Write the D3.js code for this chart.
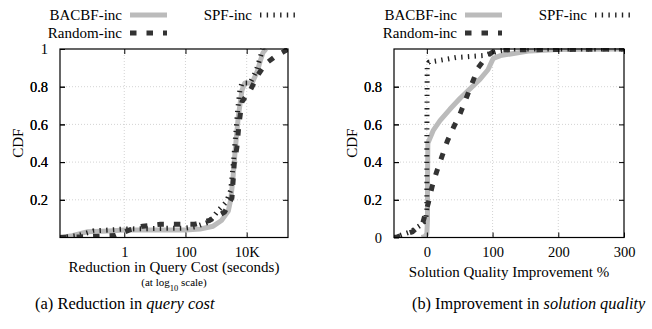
<!DOCTYPE html>
<html>
<head>
<meta charset="utf-8">
<script src="https://cdn.jsdelivr.net/npm/d3@7"></script>
<style>
  body { margin: 0; background: #fff; }
  svg { display: block; }
  text { font-family: "Liberation Serif", "DejaVu Serif", serif; fill: #000; }
</style>
</head>
<body>
<div id="chart"></div>
<script>
// series names
var series_names = ['BACBF-inc', 'SPF-inc', 'Random-inc'];

// (a) reduction in query cost, seconds (log scale) vs CDF
var cost_bacbf = [[0.008, 0], [0.02, 0.01], [0.06, 0.03], [0.3, 0.035], [1, 0.04], [10, 0.04], [100, 0.04],
    [300, 0.045], [800, 0.06], [1500, 0.09], [2500, 0.14], [3000, 0.2], [3500, 0.3], [4200, 0.46],
    [5300, 0.64], [7000, 0.78], [8700, 0.82], [15000, 0.82], [22000, 0.88], [27000, 0.93], [34000, 0.98], [43000, 1]];
var cost_spf = [[0.008, 0], [0.03, 0.01], [0.1, 0.035], [1, 0.045], [100, 0.05], [200, 0.056], [600, 0.083],
    [1200, 0.145], [2200, 0.19], [3000, 0.25], [3700, 0.4], [4400, 0.55], [5100, 0.68], [6000, 0.78],
    [7000, 0.82], [13000, 0.82], [20000, 0.88], [26000, 0.94], [33000, 1]];
var cost_random = [[0.008, 0], [0.04, 0.003], [0.15, 0.007], [0.5, 0.01], [1.5, 0.04], [4, 0.06], [15, 0.07],
    [200, 0.07], [600, 0.09], [1900, 0.135], [3300, 0.21], [3600, 0.3], [3900, 0.39], [4800, 0.48],
    [5600, 0.6], [7000, 0.72], [13000, 0.78], [23000, 0.86], [40000, 0.92], [85000, 0.96], [180000, 0.99], [220000, 1]];

// (b) solution quality improvement % vs CDF
var qual_bacbf = [[-8, 0], [-3, 0.005], [0, 0.02], [1, 0.1], [1, 0.3], [1.5, 0.5], [10, 0.57], [20, 0.62],
    [35, 0.68], [51, 0.74], [66, 0.79], [81, 0.84], [93, 0.89], [101, 0.95], [112, 0.965], [157, 0.99], [200, 0.997], [300, 1]];
var qual_spf = [[-50, 0], [-25, 0.03], [-10, 0.065], [-2, 0.09], [0, 0.15], [0, 0.5], [0.5, 0.91], [3, 0.93],
    [20, 0.94], [45, 0.955], [85, 0.965], [110, 0.99], [130, 1], [300, 1]];
var qual_random = [[-50, 0], [-45, 0.003], [-22, 0.03], [-6, 0.08], [2, 0.18], [8, 0.27], [15, 0.35], [23, 0.43],
    [31, 0.51], [40, 0.58], [51, 0.66], [60, 0.74], [69, 0.82], [78, 0.9], [92, 0.965], [105, 0.995], [300, 1]];

// ticks
var cost_ticks = [1, 100, 10000];
var cost_tick_labels = ['1', '100', '10K'];
var qual_ticks = [0, 100, 200, 300];
var cdf_ticks_a = [0.2, 0.4, 0.6, 0.8, 1];
var cdf_ticks_b = [0, 0.2, 0.4, 0.6, 0.8];

var width = 652, height = 329;
var top_y = 49, bottom_y = 237.5;

var styles = [
    {color: '#bbbbbb', width: 5, dash: null},
    {color: '#222222', width: 5, dash: '1.4,5.3'},
    {color: '#333333', width: 5, dash: '6.5,10'}
];

var svg = d3.select('#chart')
    .append('svg')
    .attr('width', width)
    .attr('height', height);

function drawPanel(id, x_scale, x_ticks, x_format, y_ticks, data, leg) {
    var x0 = x_scale.range()[0], x1 = x_scale.range()[1];
    var y_scale = d3.scaleLinear().domain([0, 1]).range([bottom_y, top_y]);
    var g = svg.append('g');

    // grid
    var grid = g.append('g').attr('stroke', '#c8c8c8').attr('stroke-dasharray', '1,2').attr('stroke-width', 0.8);
    x_ticks.forEach(function(t) {
        var x = x_scale(t);
        if (x > x0 + 1 && x < x1 - 1) grid.append('line').attr('x1', x).attr('x2', x).attr('y1', top_y).attr('y2', bottom_y);
    });
    [0.2, 0.4, 0.6, 0.8].forEach(function(t) {
        grid.append('line').attr('x1', x0).attr('x2', x1).attr('y1', y_scale(t)).attr('y2', y_scale(t));
    });

    // lines
    svg.append('clipPath').attr('id', 'clip' + id)
        .append('rect').attr('x', x0).attr('y', top_y - 1).attr('width', x1 - x0).attr('height', bottom_y - top_y + 1);
    var line = d3.line()
        .x(function(d) { return x_scale(d[0]); })
        .y(function(d) { return y_scale(d[1]); });
    data.forEach(function(s, i) {
        g.append('path')
            .datum(s)
            .attr('clip-path', 'url(#clip' + id + ')')
            .attr('fill', 'none')
            .attr('stroke', styles[i].color)
            .attr('stroke-width', styles[i].width)
            .attr('stroke-dasharray', styles[i].dash)
            .attr('stroke-linejoin', 'round')
            .attr('d', line);
    });

    // axes (ticks inward, mirrored)
    var xb = d3.axisBottom(x_scale).tickValues(x_ticks).tickSize(-5).tickPadding(9).tickFormat(x_format);
    var xt = d3.axisTop(x_scale).tickValues(x_ticks).tickSize(-5).tickFormat('');
    var yl = d3.axisLeft(y_scale).tickValues(y_ticks.concat([0.2, 0.4, 0.6, 0.8])).tickSize(-5).tickPadding(12).tickFormat(function(d) {
        return y_ticks.indexOf(d) >= 0 ? d3.format('')(d) : '';
    });
    var yr = d3.axisRight(y_scale).tickValues([0.2, 0.4, 0.6, 0.8]).tickSize(-5).tickFormat('');
    [[xb, 'translate(0,' + bottom_y + ')'], [xt, 'translate(0,' + top_y + ')'],
     [yl, 'translate(' + x0 + ',0)'], [yr, 'translate(' + x1 + ',0)']].forEach(function(a) {
        var ax = g.append('g').attr('transform', a[1]).call(a[0]);
        ax.select('.domain').remove();
        ax.selectAll('line').attr('stroke', '#000').attr('stroke-width', 1);
        ax.selectAll('text').style('font-family', '"Liberation Serif", serif').style('font-size', '14.5px').attr('fill', '#000');
    });

    g.append('rect').attr('x', x0).attr('y', top_y).attr('width', x1 - x0).attr('height', bottom_y - top_y)
        .attr('fill', 'none').attr('stroke', '#000').attr('stroke-width', 1.2);

    // y label
    g.append('text')
        .attr('transform', 'translate(' + (x0 - 37) + ',' + ((top_y + bottom_y) / 2) + ') rotate(-90)')
        .attr('text-anchor', 'middle')
        .style('font-size', '15px')
        .text('CDF');

    // legend: two columns, BACBF and SPF on the first row, Random below
    var pos = [[leg, 15], [leg + 130, 15], [leg, 33]];
    series_names.forEach(function(name, i) {
        var p = pos[i];
        g.append('text').attr('x', p[0]).attr('y', p[1] + 5).attr('text-anchor', 'end')
            .style('font-size', '15px').text(name);
        g.append('line').attr('x1', p[0] + 8).attr('x2', p[0] + 45).attr('y1', p[1]).attr('y2', p[1])
            .attr('stroke', styles[i].color).attr('stroke-width', styles[i].width)
            .attr('stroke-dasharray', styles[i].dash);
    });
    return g;
}

var xa = d3.scaleLog().domain([Math.pow(10, -2.1), Math.pow(10, 5.35)]).range([60, 288]);
var ga = drawPanel('a', xa, cost_ticks, function(d, i) { return cost_tick_labels[i]; }, cdf_ticks_a,
    [cost_bacbf, cost_spf, cost_random], 122);

var xb = d3.scaleLinear().domain([-50, 300]).range([394, 624]);
var gb = drawPanel('b', xb, qual_ticks, d3.format('d'), cdf_ticks_b,
    [qual_bacbf, qual_spf, qual_random], 457);

// x labels
ga.append('text').attr('x', 174).attr('y', 272).attr('text-anchor', 'middle').style('font-size', '15px')
    .text('Reduction in Query Cost (seconds)');
var sub = ga.append('text').attr('x', 174).attr('y', 286).attr('text-anchor', 'middle').style('font-size', '11px');
sub.append('tspan').text('(at log');
sub.append('tspan').attr('baseline-shift', 'sub').style('font-size', '8.5px').text('10');
sub.append('tspan').text(' scale)');

gb.append('text').attr('x', 509).attr('y', 277).attr('text-anchor', 'middle').style('font-size', '15px')
    .text('Solution Quality Improvement %');

// captions
var ca = svg.append('text').attr('x', 35).attr('y', 309).style('font-size', '16.5px');
ca.append('tspan').text('(a) Reduction in ');
ca.append('tspan').style('font-style', 'italic').text('query cost');
var cb = svg.append('text').attr('x', 412).attr('y', 309).style('font-size', '16.3px');
cb.append('tspan').text('(b) Improvement in ');
cb.append('tspan').style('font-style', 'italic').text('solution quality');
</script>
</body>
</html>
